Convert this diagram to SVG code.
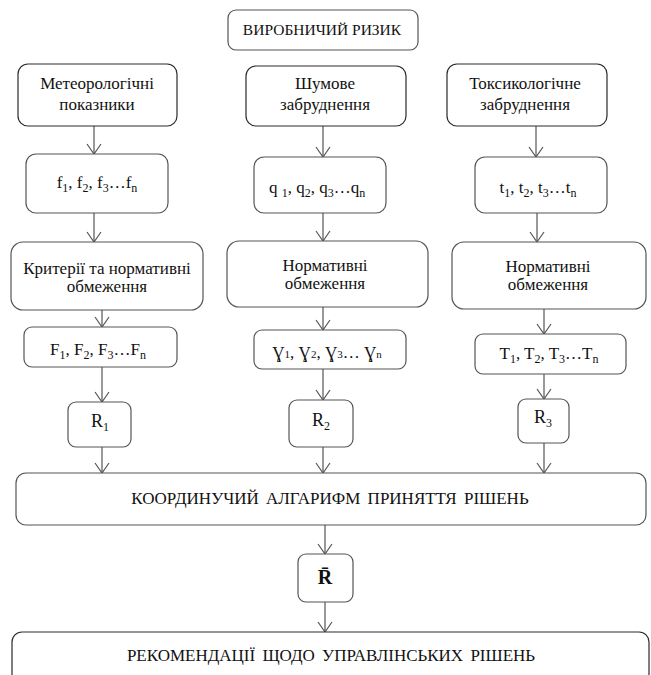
<svg xmlns="http://www.w3.org/2000/svg" width="651" height="675" viewBox="0 0 651 675" font-family="'Liberation Serif', 'Times New Roman', Times, 'DejaVu Serif', serif">
<style>
  .box { fill: #ffffff; stroke: #555555; stroke-width: 1.2; }
  .dark { stroke: #2a2a2a; }
  text { font-family: 'Liberation Serif', 'Times New Roman', Times, 'DejaVu Serif', serif; }
  .t { font-size: 17px; fill: #111111; text-anchor: middle; }
  .cap { font-size: 15.5px; }
  .wide { font-size: 17px; word-spacing: 3px; }
  .sub { font-size: 12px; }
  .small { font-size: 11px; }
  .r { font-size: 18px; }
  .bold { font-weight: bold; font-size: 20px; }
  .conn path { fill: none; stroke: #555555; stroke-width: 1.2; marker-end: url(#arr); }
</style>
<defs>
  <marker id="arr" markerUnits="userSpaceOnUse" markerWidth="12" markerHeight="16" viewBox="0 0 12 16" refX="11" refY="8" orient="auto">
    <path d="M1,1 L11,8 L1,15" fill="none" stroke="#555555" stroke-width="1.2"/>
  </marker>
</defs>
<rect width="651" height="675" fill="#ffffff"/>

<g id="connectors" class="conn">
  <path d="M94,126 V154"/>
  <path d="M323,126 V157"/>
  <path d="M536,126 V157"/>
  <path d="M94,213 V242"/>
  <path d="M323,213 V241"/>
  <path d="M537,213 V242"/>
  <path d="M102,310 V327"/>
  <path d="M323,307 V330"/>
  <path d="M544,309 V334"/>
  <path d="M102,367 V402"/>
  <path d="M323,369 V400"/>
  <path d="M544,374 V399"/>
  <path d="M102,447 V473"/>
  <path d="M323,447 V473"/>
  <path d="M544,443 V473"/>
  <path d="M325,525 V554"/>
  <path d="M325,602 V632"/>
</g>

<g id="risk">
  <rect class="box" x="228" y="10" width="190" height="40" rx="8"/>
  <text class="t cap" x="322" y="35">ВИРОБНИЧИЙ РИЗИК</text>
</g>

<g id="meteo">
  <rect class="box dark" x="18" y="64" width="159" height="62" rx="10"/>
  <text class="t" x="97" y="89">Метеорологічні</text>
  <text class="t" x="97" y="110">показники</text>
</g>
<g id="noise">
  <rect class="box dark" x="246" y="66" width="160" height="60" rx="10"/>
  <text class="t" x="325" y="89">Шумове</text>
  <text class="t" x="325" y="110">забруднення</text>
</g>
<g id="toxic">
  <rect class="box dark" x="447" y="64" width="160" height="62" rx="10"/>
  <text class="t" x="525" y="89">Токсикологічне</text>
  <text class="t" x="525" y="110">забруднення</text>
</g>

<g id="f">
  <rect class="box" x="26" y="154" width="142" height="59" rx="10"/>
  <text class="t" x="97" y="188">f<tspan class="sub" dy="4">1</tspan><tspan dy="-4">, f</tspan><tspan class="sub" dy="4">2</tspan><tspan dy="-4">, f</tspan><tspan class="sub" dy="4">3</tspan><tspan dy="-4">…f</tspan><tspan class="sub" dy="4">n</tspan></text>
</g>
<g id="q">
  <rect class="box" x="254" y="157" width="132" height="56" rx="10"/>
  <text class="t" x="317" y="193">q <tspan class="sub" dy="4">1</tspan><tspan dy="-4">, q</tspan><tspan class="sub" dy="4">2</tspan><tspan dy="-4">, q</tspan><tspan class="sub" dy="4">3</tspan><tspan dy="-4">…q</tspan><tspan class="sub" dy="4">n</tspan></text>
</g>
<g id="t">
  <rect class="box" x="475" y="157" width="132" height="56" rx="10"/>
  <text class="t" x="538" y="193">t<tspan class="sub" dy="4">1</tspan><tspan dy="-4">, t</tspan><tspan class="sub" dy="4">2</tspan><tspan dy="-4">, t</tspan><tspan class="sub" dy="4">3</tspan><tspan dy="-4">…t</tspan><tspan class="sub" dy="4">n</tspan></text>
</g>

<g id="criteria">
  <rect class="box" x="11" y="242" width="192" height="68" rx="12"/>
  <text class="t" x="107" y="274">Критерії та нормативні</text>
  <text class="t" x="107" y="292">обмеження</text>
</g>
<g id="norm2">
  <rect class="box" x="227" y="241" width="201" height="66" rx="12"/>
  <text class="t" x="325" y="271">Нормативні</text>
  <text class="t" x="325" y="289">обмеження</text>
</g>
<g id="norm3">
  <rect class="box" x="452" y="242" width="194" height="67" rx="12"/>
  <text class="t" x="548" y="272">Нормативні</text>
  <text class="t" x="548" y="290">обмеження</text>
</g>

<g id="F">
  <rect class="box" x="24" y="327" width="153" height="40" rx="8"/>
  <text class="t" x="98" y="355">F<tspan class="sub" dy="4">1</tspan><tspan dy="-4">, F</tspan><tspan class="sub" dy="4">2</tspan><tspan dy="-4">, F</tspan><tspan class="sub" dy="4">3</tspan><tspan dy="-4">…F</tspan><tspan class="sub" dy="4">n</tspan></text>
</g>
<g id="gamma">
  <rect class="box" x="254" y="330" width="152" height="39" rx="8"/>
  <text class="t" x="327" y="358">Ɣ<tspan class="small">1</tspan>, Ɣ<tspan class="small">2</tspan>, Ɣ<tspan class="small">3</tspan>… Ɣ<tspan class="small">n</tspan></text>
</g>
<g id="T">
  <rect class="box" x="475" y="334" width="151" height="40" rx="8"/>
  <text class="t" x="549" y="359">T<tspan class="sub" dy="4">1</tspan><tspan dy="-4">, T</tspan><tspan class="sub" dy="4">2</tspan><tspan dy="-4">, T</tspan><tspan class="sub" dy="4">3</tspan><tspan dy="-4">…T</tspan><tspan class="sub" dy="4">n</tspan></text>
</g>

<g id="R1">
  <rect class="box" x="68" y="402" width="63" height="45" rx="8"/>
  <text class="t r" x="100" y="427">R<tspan class="sub" dy="4">1</tspan></text>
</g>
<g id="R2">
  <rect class="box" x="289" y="400" width="64" height="47" rx="8"/>
  <text class="t r" x="321" y="426">R<tspan class="sub" dy="4">2</tspan></text>
</g>
<g id="R3">
  <rect class="box" x="518" y="399" width="51" height="44" rx="8"/>
  <text class="t r" x="543" y="423">R<tspan class="sub" dy="4">3</tspan></text>
</g>

<g id="algorithm">
  <rect class="box" x="16" y="473" width="630" height="52" rx="10"/>
  <text class="t wide" x="330" y="504">КООРДИНУЧИЙ АЛГАРИФМ ПРИНЯТТЯ РІШЕНЬ</text>
</g>

<g id="Rbar">
  <rect class="box" x="298" y="554" width="55" height="48" rx="8"/>
  <text class="t bold" x="325" y="584">R̄</text>
</g>

<g id="recommend">
  <rect class="box dark" x="12" y="632" width="637" height="70" rx="10"/>
  <text class="t wide" x="331" y="661">РЕКОМЕНДАЦІЇ ЩОДО УПРАВЛІНСЬКИХ РІШЕНЬ</text>
</g>
</svg>
